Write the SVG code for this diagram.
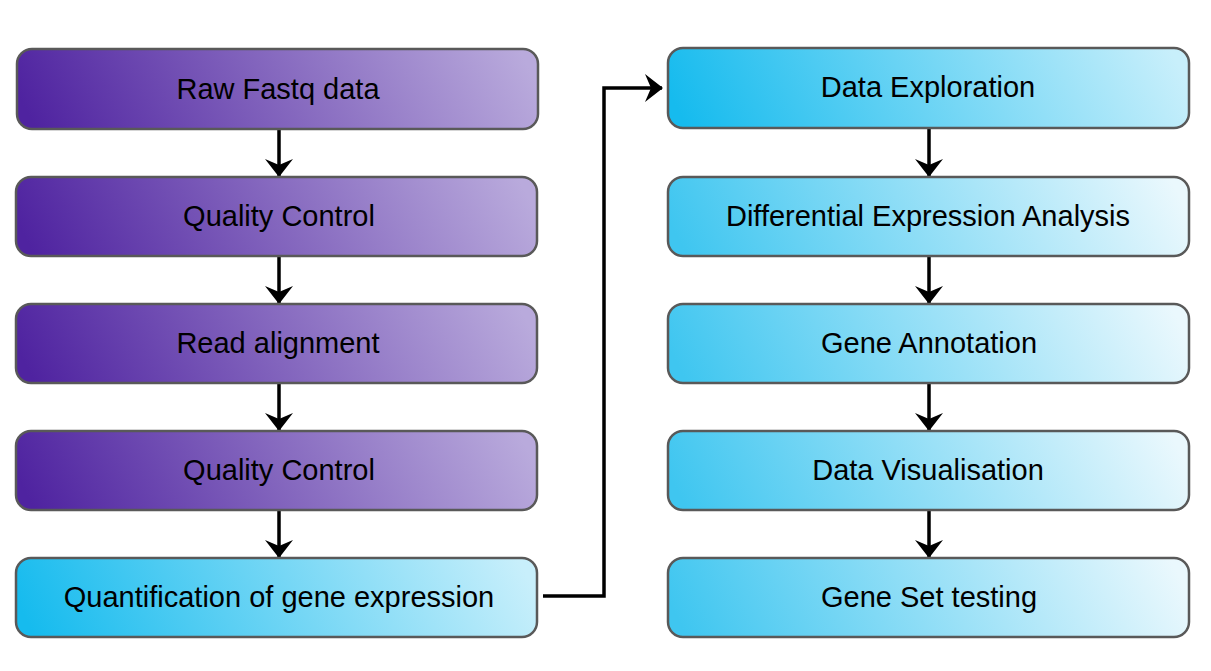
<svg xmlns="http://www.w3.org/2000/svg" width="1211" height="671" viewBox="0 0 1211 671">
<style>
.box{stroke:#595959;stroke-width:2.5}
.lbl{font-family:"Liberation Sans",Arial,sans-serif;font-size:29px;fill:#000;text-anchor:middle}
.con{fill:none;stroke:#000;stroke-width:3.5}
</style>
<defs>
<linearGradient id="gPurple" x1="0" y1="0.54" x2="1" y2="0.46">
<stop offset="0" stop-color="#4f23a0"/>
<stop offset="1" stop-color="#b9aadc"/>
</linearGradient>
<linearGradient id="gCyan1" x1="0" y1="0.54" x2="1" y2="0.46">
<stop offset="0" stop-color="#16bbee"/>
<stop offset="1" stop-color="#c8effb"/>
</linearGradient>
<linearGradient id="gCyan2" x1="0" y1="0.54" x2="1" y2="0.46">
<stop offset="0" stop-color="#3fc6f0"/>
<stop offset="1" stop-color="#eaf8fd"/>
</linearGradient>
<marker id="arr" viewBox="0 0 18 28" refX="17" refY="14" markerWidth="18" markerHeight="28" markerUnits="userSpaceOnUse" orient="auto">
<path d="M0,0 L18,14 L0,28 L6,14 Z" fill="#000"/>
</marker>
</defs>
<rect width="1211" height="671" fill="#fff"/>
<g id="connectors">
<line class="con" x1="279" y1="129" x2="279" y2="176" marker-end="url(#arr)"/>
<line class="con" x1="279" y1="257" x2="279" y2="303" marker-end="url(#arr)"/>
<line class="con" x1="279" y1="384" x2="279" y2="430" marker-end="url(#arr)"/>
<line class="con" x1="279" y1="511" x2="279" y2="557" marker-end="url(#arr)"/>
<line class="con" x1="929" y1="129" x2="929" y2="176" marker-end="url(#arr)"/>
<line class="con" x1="929" y1="257" x2="929" y2="303" marker-end="url(#arr)"/>
<line class="con" x1="929" y1="384" x2="929" y2="430" marker-end="url(#arr)"/>
<line class="con" x1="929" y1="511" x2="929" y2="557" marker-end="url(#arr)"/>
<path class="con" d="M543,596 H604 V88 H662" marker-end="url(#arr)"/>
</g>
<g id="raw-fastq">
<rect class="box" x="17" y="49" width="521" height="80" rx="15" fill="url(#gPurple)"/>
<text class="lbl" x="278" y="99">Raw Fastq data</text>
</g>
<g id="quality-control-1">
<rect class="box" x="16" y="177" width="521" height="79" rx="15" fill="url(#gPurple)"/>
<text class="lbl" x="279" y="226">Quality Control</text>
</g>
<g id="read-alignment">
<rect class="box" x="16" y="304" width="521" height="79" rx="15" fill="url(#gPurple)"/>
<text class="lbl" x="278" y="353">Read alignment</text>
</g>
<g id="quality-control-2">
<rect class="box" x="16" y="431" width="521" height="79" rx="15" fill="url(#gPurple)"/>
<text class="lbl" x="279" y="480">Quality Control</text>
</g>
<g id="quantification">
<rect class="box" x="16" y="558" width="521" height="79" rx="15" fill="url(#gCyan1)"/>
<text class="lbl" x="279" y="607">Quantification of gene expression</text>
</g>
<g id="data-exploration">
<rect class="box" x="668" y="48" width="521" height="80" rx="15" fill="url(#gCyan1)"/>
<text class="lbl" x="928" y="97">Data Exploration</text>
</g>
<g id="differential-expression">
<rect class="box" x="668" y="177" width="521" height="79" rx="15" fill="url(#gCyan2)"/>
<text class="lbl" x="928" y="226">Differential Expression Analysis</text>
</g>
<g id="gene-annotation">
<rect class="box" x="668" y="304" width="521" height="79" rx="15" fill="url(#gCyan2)"/>
<text class="lbl" x="929" y="353">Gene Annotation</text>
</g>
<g id="data-visualisation">
<rect class="box" x="668" y="431" width="521" height="79" rx="15" fill="url(#gCyan2)"/>
<text class="lbl" x="928" y="480">Data Visualisation</text>
</g>
<g id="gene-set-testing">
<rect class="box" x="668" y="558" width="521" height="79" rx="15" fill="url(#gCyan2)"/>
<text class="lbl" x="929" y="607">Gene Set testing</text>
</g>
</svg>
